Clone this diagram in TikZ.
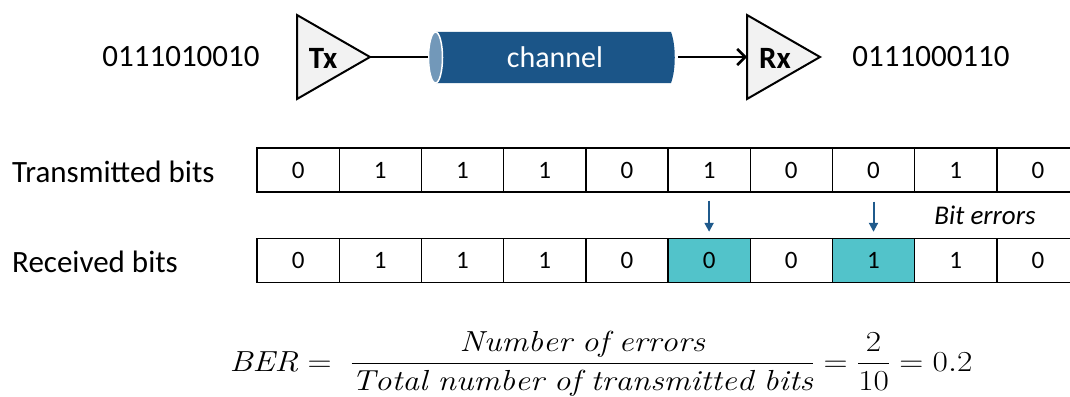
\RequirePackage{fix-cm}
\documentclass[tikz,border=0pt]{standalone}
\usepackage{amsmath}
\usepackage{graphicx}
\usepackage{fontspec}
\newfontfamily\calibri{Carlito}
\usetikzlibrary{arrows.meta}
\definecolor{chblue}{RGB}{27,85,136}
\definecolor{capblue}{RGB}{114,152,185}
\definecolor{errteal}{RGB}{82,195,202}
\definecolor{triFill}{RGB}{242,242,242}
\definecolor{arrblue}{RGB}{31,90,140}
\tikzset{
  lbl/.style={font=\calibri\fontsize{31}{36}\selectfont, inner sep=0pt},
  amp/.style={draw=black, line width=2pt, fill=triFill, line join=miter},
  ampname/.style={font=\calibri\bfseries\fontsize{31}{36}\selectfont, inner sep=0pt},
  wire/.style={line width=2.6pt},
  bitcell/.style={draw=black, line width=1.4pt, minimum width=82.2pt, minimum height=44pt, inner sep=0pt, font=\calibri\fontsize{25}{30}\selectfont},
  errcell/.style={bitcell, fill=errteal},
  errarrow/.style={draw=arrblue, line width=2pt, -{Triangle[length=9pt,width=9pt]}},
}
\begin{document}
\begin{tikzpicture}[x=1pt,y=-1pt]
\useasboundingbox (0,0) rectangle (1070,396);
% input / output strings
\node[lbl] (inbits) at (181,57) {0111010010};
\node[lbl] (outbits) at (931,57) {0111000110};
% Tx amplifier
\draw[amp] (297,15) -- (370,57) -- (297,99) -- cycle;
\node[ampname] (tx) at (323,58) {Tx};
\coordinate (txout) at (370,57);
% channel cylinder
\fill[chblue] (435.5,32) -- (671,32) .. controls (676,45) and (676,70) .. (671,83) -- (435.5,83) -- cycle;
\draw[white, line width=1.5pt, fill=capblue] (435.5,57.5) ellipse [x radius=7, y radius=25.5];
\node[lbl, text=white, font=\calibri\fontsize{30}{36}\selectfont] (ch) at (555,57) {channel};
\coordinate (chin) at (428,57);
\coordinate (chout) at (678,57);
% Rx amplifier
\draw[amp] (747,15) -- (820,57) -- (747,99) -- cycle;
\node[ampname] (rx) at (775,58) {Rx};
\coordinate (rxin) at (747,57);
% connectors
\draw[wire] (txout) -- (chin);
\draw[wire, -{Straight Barb[length=8pt,width=16pt,line width=2.6pt]}] (chout) -- (rxin);
% row labels
\node[lbl, anchor=west] (tlab) at (12,172) {Transmitted bits};
\node[lbl, anchor=west] (rlab) at (12,262) {Received bits};
% bit cells
\foreach \b [count=\i from 0] in {0,1,1,1,0,1,0,0,1,0} {
  \node[bitcell] (t\i) at ({257+82.2*(\i+0.5)},170) {\b};
}
\foreach \b/\s [count=\i from 0] in {0/bitcell,1/bitcell,1/bitcell,1/bitcell,0/bitcell,0/errcell,0/bitcell,1/errcell,1/bitcell,0/bitcell} {
  \node[\s] (r\i) at ({257+82.2*(\i+0.5)},260.5) {\b};
}
% error arrows
\draw[errarrow] ([yshift=-8pt]t5.south) -- ([yshift=6pt]r5.north);
\draw[errarrow] ([yshift=-9pt]t7.south) -- ([yshift=6pt]r7.north);
\node[lbl, font=\calibri\itshape\fontsize{27}{32}\selectfont] (errlab) at (985,215) {Bit errors};
% formula
\node[inner sep=0pt, anchor=base, font=\fontsize{29}{35}\selectfont] (ber) at (601,371)
  {\scalebox{1.15}[1]{$\mathit{BER} = \;\dfrac{\mathit{Number\ of\ errors}}{\mathit{Total\ number\ of\ transmitted\ bits}} = \dfrac{2}{10} = 0.2$}};
\end{tikzpicture}
\end{document}
